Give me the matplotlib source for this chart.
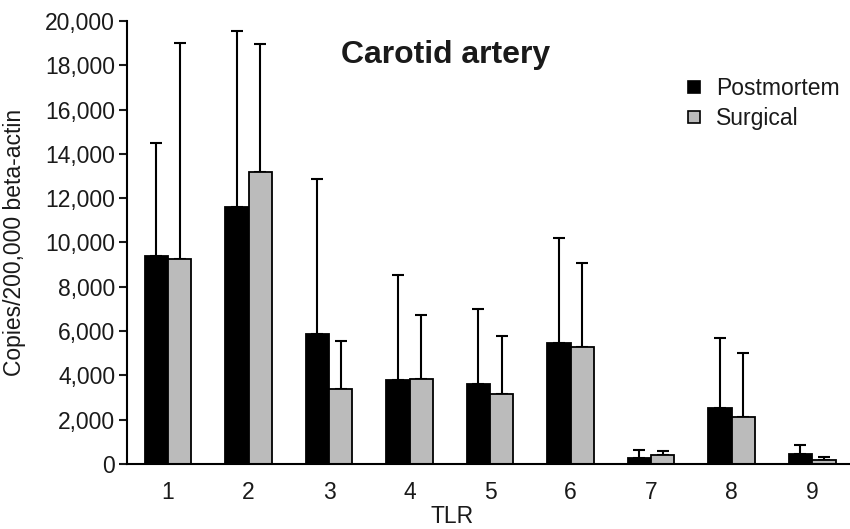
import matplotlib
matplotlib.use('Agg')
import matplotlib.pyplot as plt
from matplotlib.lines import Line2D
import numpy as np

plt.rcParams['font.family'] = ['Liberation Sans', 'DejaVu Sans']

tlr = [1, 2, 3, 4, 5, 6, 7, 8, 9]
postmortem = [9400, 11620, 5860, 3770, 3620, 5480, 280, 2510, 440]
postmortem_err = [5100, 7920, 7010, 4750, 3390, 4710, 360, 3180, 420]
surgical = [9250, 13170, 3380, 3820, 3170, 5300, 420, 2120, 190]
surgical_err = [9750, 5780, 2170, 2910, 2590, 3790, 150, 2890, 140]
yticks = [0, 2000, 4000, 6000, 8000, 10000, 12000, 14000, 16000, 18000, 20000]

text_color = '#1a1a1a'
gray = '#bbbbbb'

fig = plt.figure(figsize=(8.5, 5.29), dpi=100)
ax = fig.add_axes([0.1494, 0.1229, 0.8506, 0.8374])

x = np.array(tlr)
width = 0.29

ax.bar(x - width / 2, postmortem, width, color='black', edgecolor='black', linewidth=1.3, zorder=2)
ax.bar(x + width / 2, surgical, width, color=gray, edgecolor='black', linewidth=1.3, zorder=2)

# upper error bars only
ax.errorbar(x - width / 2, postmortem, yerr=[np.zeros(len(x)), postmortem_err],
            fmt='none', ecolor='black', elinewidth=1.5, capsize=4.2, capthick=1.5, zorder=1)
ax.errorbar(x + width / 2, surgical, yerr=[np.zeros(len(x)), surgical_err],
            fmt='none', ecolor='black', elinewidth=1.5, capsize=4.2, capthick=1.5, zorder=1)

ax.set_xlim(0.49, 9.47)
ax.set_ylim(0, 20000)
ax.set_yticks(yticks)
ax.set_yticklabels([f'{v:,}' for v in yticks])
ax.set_xticks(x)
ax.set_xticklabels([str(t) for t in tlr])

for side in ['top', 'right']:
    ax.spines[side].set_visible(False)
for side in ['left', 'bottom']:
    ax.spines[side].set_linewidth(1.5)

ax.tick_params(axis='y', direction='out', length=5.5, width=1.5, labelsize=16.5,
               colors=text_color, pad=3)
ax.tick_params(axis='x', length=0, labelsize=16.5, colors=text_color, pad=12)

ax.set_ylabel('Copies/200,000 beta-actin', fontsize=16.5, color=text_color)
ax.yaxis.set_label_coords(-0.139, 0.5)
ax.set_xlabel('TLR', fontsize=16.5, color=text_color)
ax.xaxis.set_label_coords((452 - 127) / 723, -0.092)

ax.text((446 - 127) / 723, (464 - 55) / 443, 'Carotid artery', fontsize=23, fontweight='bold',
        color=text_color, ha='center', va='center', transform=ax.transAxes)

handles = [
    Line2D([], [], marker='s', linestyle='none', markersize=8.5, markerfacecolor='black',
           markeredgecolor='black', markeredgewidth=1.2),
    Line2D([], [], marker='s', linestyle='none', markersize=8.5, markerfacecolor=gray,
           markeredgecolor='black', markeredgewidth=1.2),
]
leg = ax.legend(handles, ['Postmortem', 'Surgical'], loc='upper left',
                bbox_to_anchor=(671 / 850, 1 - 66 / 529), bbox_transform=fig.transFigure,
                frameon=False, fontsize=16.5, handlelength=1.0, handletextpad=0.45,
                labelspacing=0.28, borderpad=0)
for t in leg.get_texts():
    t.set_color(text_color)

fig.savefig('out.png', dpi=100)
